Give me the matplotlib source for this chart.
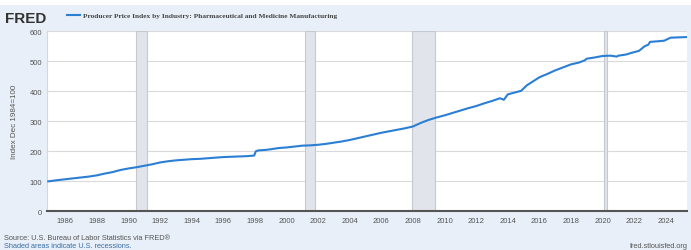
import matplotlib.pyplot as plt
from matplotlib.patches import Rectangle
from matplotlib.lines import Line2D

# Data (decimal year, index value)
years = [1984.92, 1985.5, 1986.0, 1986.5, 1987.0, 1987.5, 1988.0, 1988.5, 1989.0, 1989.5,
         1990.0, 1990.5, 1991.0, 1991.5, 1992.0, 1992.5, 1993.0, 1993.5, 1994.0, 1994.5,
         1995.0, 1995.5, 1996.0, 1996.5, 1997.0, 1997.5, 1997.95, 1998.05, 1998.2, 1998.7,
         1999.0, 1999.5, 2000.0, 2000.5, 2001.0, 2001.5, 2002.0, 2002.5, 2003.0, 2003.5,
         2004.0, 2004.5, 2005.0, 2005.5, 2006.0, 2006.5, 2007.0, 2007.5, 2008.0, 2008.5,
         2009.0, 2009.5, 2010.0, 2010.5, 2011.0, 2011.5, 2012.0, 2012.5, 2013.0, 2013.5,
         2013.75, 2014.0, 2014.5, 2014.85, 2015.2, 2015.5, 2016.0, 2016.5, 2017.0, 2017.5,
         2018.0, 2018.5, 2018.85, 2019.0, 2019.5, 2020.0, 2020.5, 2020.9, 2021.0, 2021.5,
         2021.8, 2022.3, 2022.65, 2022.9, 2023.0, 2023.5, 2023.9, 2024.3, 2024.8, 2025.3]
values = [100, 104, 107, 110, 113, 116, 120, 126, 131, 138,
          143, 147, 152, 157, 163, 167, 170, 172, 174, 175,
          177, 179, 181, 182, 183, 184, 186, 200, 203, 205,
          207, 211, 213, 216, 219, 220, 222, 225, 229, 233,
          238, 244, 250, 256, 262, 267, 272, 277, 283, 295,
          305, 313, 320, 328, 336, 344, 351, 360, 368, 377,
          372, 390, 397, 402, 420, 430, 447, 458, 470, 480,
          490, 496, 503, 509, 513, 518, 519, 516, 519, 523,
          528, 535, 550, 556, 565, 567, 569, 579, 580, 581]

# US recessions (start, end)
rec_start = [1990.5, 2001.17, 2007.92, 2020.08]
rec_end = [1991.17, 2001.83, 2009.42, 2020.25]

xticks = list(range(1986, 2025, 2))
yticks = [0, 100, 200, 300, 400, 500, 600]

bg = '#e8eff8'
fig = plt.figure(figsize=(6.91, 2.51), dpi=100, facecolor=bg)
# white strip at the very top
fig.patches.append(Rectangle((0, 0.975), 1, 0.025, transform=fig.transFigure,
                             facecolor='white', edgecolor='none'))

ax = fig.add_axes([0.0687, 0.154, 0.9255, 0.717])
ax.set_facecolor('white')

for s, e in zip(rec_start, rec_end):
    ax.axvspan(s, e, facecolor='#e1e5eb', edgecolor='#c6cad0', linewidth=0.8, zorder=1)

ax.plot(years, values, color='#2a7fd4', linewidth=1.5, zorder=3)

ax.set_xlim(1984.87, 2025.34)
ax.set_ylim(0, 600)
ax.set_xticks(xticks)
ax.set_yticks(yticks)
ax.grid(axis='y', color='#dadada', linewidth=0.8, zorder=0)
ax.set_axisbelow(True)

for side in ['top', 'right']:
    ax.spines[side].set_visible(False)
ax.spines['left'].set_color('#d8d8d8')
ax.spines['left'].set_linewidth(0.8)
ax.spines['bottom'].set_color('#555555')
ax.spines['bottom'].set_linewidth(1.5)

ax.tick_params(length=0, labelsize=5.5, labelcolor='#555555', pad=4)
for lab in ax.get_xticklabels() + ax.get_yticklabels():
    lab.set_fontfamily('Liberation Sans')
ax.set_ylabel('Index Dec 1984=100', fontsize=5.8, color='#555555',
              fontfamily='Liberation Sans', labelpad=8)

# header
fig.text(0.007, 0.925, 'FRED', fontsize=11, fontweight='bold', color='#333333',
         fontfamily='Liberation Sans', va='center', ha='left')
fig.lines.append(Line2D([67 / 691, 80 / 691], [0.935, 0.935], transform=fig.transFigure,
                        color='#2a7fd4', linewidth=1.5))
fig.text(83 / 691, 0.935, 'Producer Price Index by Industry: Pharmaceutical and Medicine Manufacturing',
         fontsize=5.3, fontweight='bold', color='#444444', fontfamily='Liberation Serif',
         va='center', ha='left')

# footer
fig.text(4 / 691, 0.05, 'Source: U.S. Bureau of Labor Statistics via FRED\u00ae', fontsize=5.3,
         color='#555555', fontfamily='Liberation Sans', va='center', ha='left')
fig.text(4 / 691, 0.018, 'Shaded areas indicate U.S. recessions.', fontsize=5.3,
         color='#3a6ea5', fontfamily='Liberation Sans', va='center', ha='left')
fig.text(688 / 691, 0.018, 'fred.stlouisfed.org', fontsize=5.3,
         color='#555555', fontfamily='Liberation Sans', va='center', ha='right')

fig.savefig('out.png', dpi=100, facecolor=bg)
